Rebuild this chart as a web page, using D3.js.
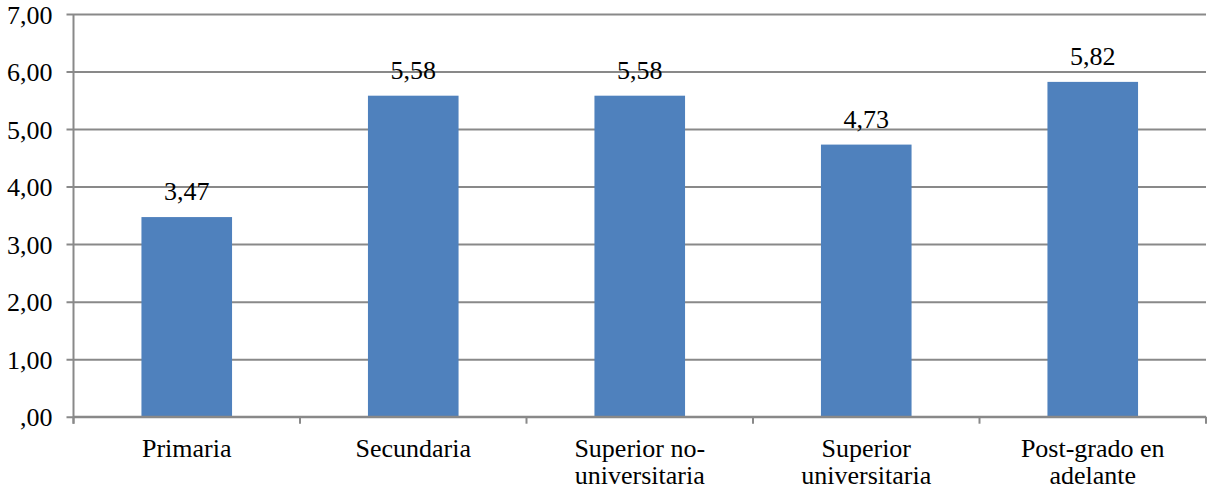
<!DOCTYPE html>
<html>
<head>
<meta charset="utf-8">
<script src="https://cdn.jsdelivr.net/npm/d3@7"></script>
</head>
<body style="margin:0;background:#fff">
<svg id="chart" width="1208" height="493"></svg>
<script>
// Category labels (wrapped lines) and bar values
const categories = [
  ["Primaria"],
  ["Secundaria"],
  ["Superior no-", "universitaria"],
  ["Superior", "universitaria"],
  ["Post-grado en", "adelante"]
];
const values = [3.47, 5.58, 5.58, 4.73, 5.82];
const yTicks = [0, 1, 2, 3, 4, 5, 6, 7];

const fmt = v => {
  const s = v.toFixed(2).replace(".", ",");
  return s.startsWith("0,") ? s.slice(1) : s;
};

const svg = d3.select("#chart");
const plotLeft = 73.5, plotRight = 1206, plotTop = 14, plotBottom = 416.7;
const fontSize = 26;
const gridColor = "#898989";
const serif = '"Liberation Serif", "Times New Roman", Tinos, cursive';

// Apply the serif face both as attribute and inline style
function serifText(sel) {
  sel.attr("font-family", "Liberation Serif")
    .attr("font-size", fontSize)
    .style("font-family", serif)
    .attr("fill", "#000");
}

const keys = categories.map((c, i) => i);
const x = d3.scaleBand().domain(keys).range([plotLeft, plotRight]).paddingInner(0.6).paddingOuter(0.3);
const y = d3.scaleLinear().domain([0, 7]).range([plotBottom, plotTop]);

// Horizontal gridlines with outward ticks
const yAxis = d3.axisLeft(y).tickValues(yTicks).tickSize(7).tickFormat(fmt);
const gy = svg.append("g").attr("transform", `translate(${plotLeft},0)`).call(yAxis)
  .attr("font-family", "Liberation Serif").attr("font-size", fontSize);
gy.select(".domain").remove();
gy.selectAll(".tick line").attr("stroke", gridColor).attr("stroke-width", 2)
  .attr("x1", -7).attr("x2", plotRight - plotLeft);
gy.selectAll(".tick text").attr("x", -21).attr("dy", "0.35em").call(serifText);

// Bars
svg.append("g").selectAll("rect").data(values).join("rect")
  .attr("x", (d, i) => x(i))
  .attr("y", d => y(d))
  .attr("width", x.bandwidth())
  .attr("height", d => y(0) - y(d))
  .attr("fill", "#4F81BD");

// Vertical axis line
svg.append("line").attr("x1", plotLeft).attr("x2", plotLeft).attr("y1", y(7)).attr("y2", y(0) + 7)
  .attr("stroke", gridColor).attr("stroke-width", 2);

// Category axis line and boundary ticks
svg.append("line").attr("x1", plotLeft).attr("x2", plotRight).attr("y1", y(0)).attr("y2", y(0))
  .attr("stroke", gridColor).attr("stroke-width", 2);
const step = x.step();
const boundaries = d3.range(categories.length + 1).map(i => plotLeft + i * step);
svg.append("g").selectAll("line").data(boundaries).join("line")
  .attr("x1", d => d).attr("x2", d => d)
  .attr("y1", y(0)).attr("y2", y(0) + 7)
  .attr("stroke", gridColor).attr("stroke-width", 2);

// Category labels
const lab = svg.append("g").selectAll("text").data(categories).join("text")
  .attr("x", (d, i) => x(i) + x.bandwidth() / 2)
  .attr("y", 456.5)
  .attr("text-anchor", "middle")
  .call(serifText);
lab.selectAll("tspan").data(d => d).join("tspan")
  .attr("x", function () { return d3.select(this.parentNode).attr("x"); })
  .attr("dy", (d, i) => i === 0 ? 0 : 27.5)
  .text(d => d);

// Value labels above bars
svg.append("g").selectAll("text").data(values).join("text")
  .attr("x", (d, i) => x(i) + x.bandwidth() / 2)
  .attr("y", d => y(d) - 17)
  .attr("text-anchor", "middle")
  .call(serifText)
  .text(fmt);
</script>
</body>
</html>
